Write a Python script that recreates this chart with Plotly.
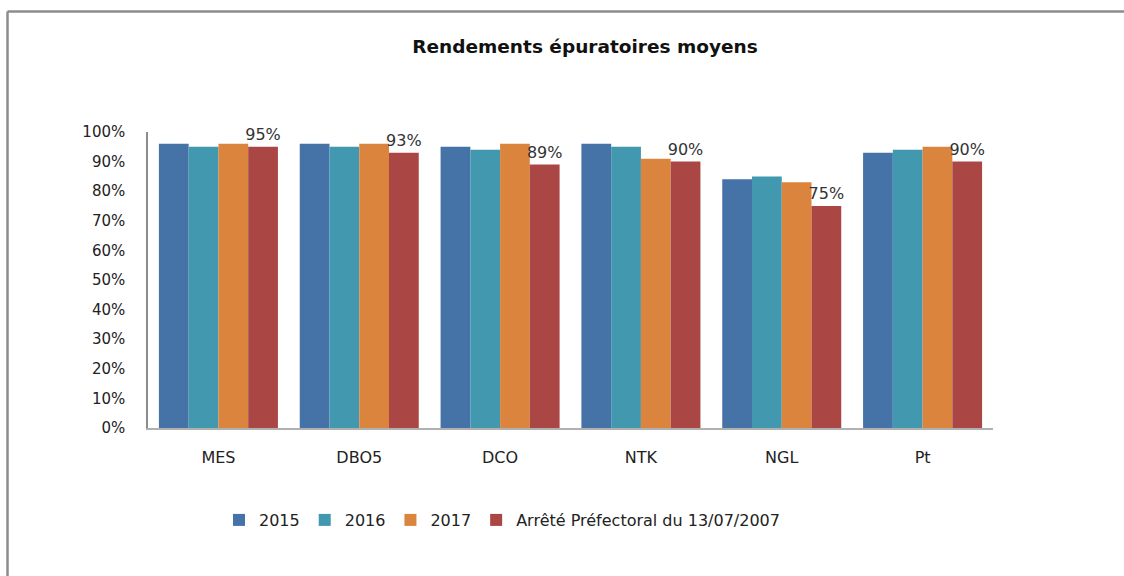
import plotly.graph_objects as go

categories = ["MES", "DBO5", "DCO", "NTK", "NGL", "Pt"]
series_names = ["2015", "2016", "2017", "Arrêté Préfectoral du 13/07/2007"]
v2015 = [0.96, 0.96, 0.95, 0.96, 0.84, 0.93]
v2016 = [0.95, 0.95, 0.94, 0.95, 0.85, 0.94]
v2017 = [0.96, 0.96, 0.96, 0.91, 0.83, 0.95]
varrete = [0.95, 0.93, 0.89, 0.90, 0.75, 0.90]
colors = ["#4572A7", "#4198AF", "#DB843D", "#AA4643"]
title = "Rendements épuratoires moyens"

W, H = 1124, 576
L, R = 148, 993
T, B = 132, 428
FONT = "DejaVu Sans"

fig = go.Figure()
for name, vals, col in zip(series_names, [v2015, v2016, v2017, varrete], colors):
    is_ref = name.startswith("Arr")
    fig.add_trace(go.Bar(
        x=categories, y=vals, name=name, marker_color=col,
        marker_line_width=0,
        text=[f"{v*100:.0f}%" for v in vals] if is_ref else None,
        textposition="outside" if is_ref else None,
        constraintext="none",
        textfont=dict(size=16, color="#333333", family=FONT),
        cliponaxis=False,
    ))

def px_x(p):
    return (p - L) / (R - L)

def px_y(p):
    return (B - p) / (B - T)

border = dict(color="#8c8c8c", width=2.5)
fig.add_shape(type="line", xref="paper", yref="paper",
              x0=px_x(7.5), x1=px_x(1130), y0=px_y(11.5), y1=px_y(11.5), line=border)
fig.add_shape(type="line", xref="paper", yref="paper",
              x0=px_x(7.5), x1=px_x(7.5), y0=px_y(11.5), y1=px_y(590), line=border)

fig.update_layout(
    width=W, height=H,
    margin=dict(l=L, r=W - R, t=T, b=H - B),
    paper_bgcolor="white", plot_bgcolor="white",
    barmode="group", bargap=0.155, bargroupgap=0,
    font=dict(family=FONT, size=15, color="#222"),
    title=dict(text=f"<b>{title}</b>", x=585 / W, xanchor="center", xref="container",
               y=1 - 47 / H, yanchor="middle", yref="container",
               font=dict(size=18.5, color="#111", family=FONT)),
    legend=dict(orientation="h", x=502 / W, xanchor="center", xref="container",
                y=1 - 520 / H, yref="container", yanchor="middle",
                font=dict(size=16, color="#222", family=FONT), itemwidth=30,
                traceorder="normal"),
    showlegend=True,
)
fig.update_yaxes(range=[0, 1.0], tickformat=".0%", dtick=0.1, showgrid=False,
                 showline=True, linecolor="#8c8c8c", linewidth=1.5, ticks="",
                 zeroline=False, tickfont=dict(size=15, color="#222"),
                 ticklabelstandoff=18)
fig.update_xaxes(showline=True, linecolor="#b0b0b0", linewidth=1.5, ticks="",
                 tickfont=dict(size=16, color="#222"), ticklabelstandoff=14)

fig.write_html("out.html", config={"displayModeBar": False},
               post_script="document.body.style.margin='0';")
